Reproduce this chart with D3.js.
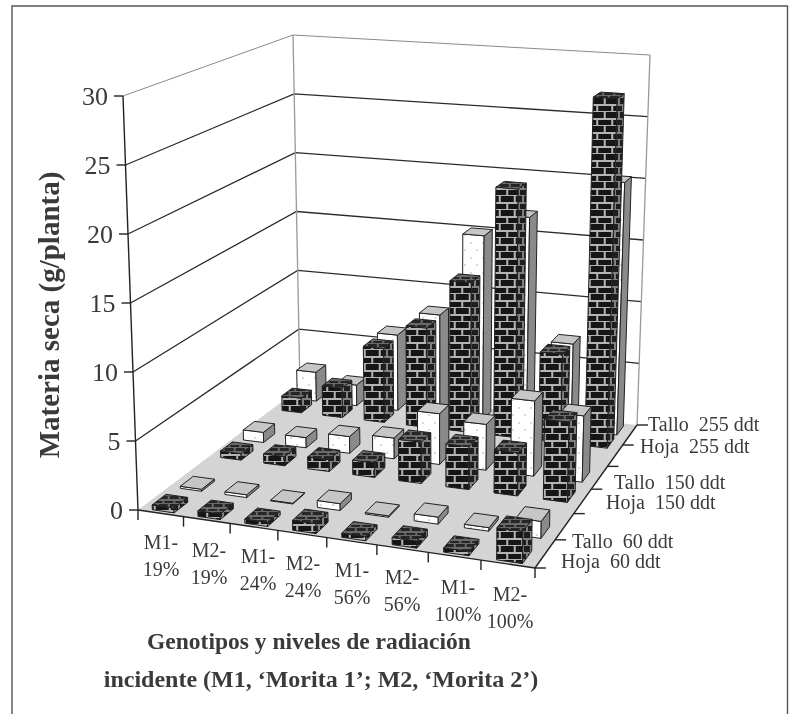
<!DOCTYPE html>
<html><head><meta charset="utf-8">
<script src="https://cdn.jsdelivr.net/npm/d3@7"></script>
<style>html,body{margin:0;padding:0;background:#fff}svg{display:block;filter:blur(0.45px)}text{font-family:"Liberation Serif",serif;fill:#3a3a3a}</style>
</head><body><svg id="c" width="789" height="714"></svg>
<script>
const categories=[["M1-","19%"],["M2-","19%"],["M1-","24%"],["M2-","24%"],["M1-","56%"],["M2-","56%"],["M1-","100%"],["M2-","100%"]];
const seriesNames=["Hoja  60 ddt","Tallo  60 ddt","Hoja  150 ddt","Tallo  150 ddt","Hoja  255 ddt","Tallo  255 ddt"];
const hoja60=[0.35,0.4,0.3,0.7,0.3,0.5,0.3,2.2];
const tallo60=[0.15,0.2,0.05,0.5,0.1,0.5,0.25,1.2];
const hoja150=[0.5,0.7,0.9,1.1,3.1,3.2,3.2,5.9];
const tallo150=[0.8,0.8,1.3,1.6,3.9,3.5,5.7,5];
const hoja255=[1.2,2.4,6,8,12,19.8,7,27.5];
const tallo255=[2.4,1.7,6.2,8.2,15,16.8,6.9,20.2];
const allSeries=[hoja60,tallo60,hoja150,tallo150,hoja255,tallo255];
const yTicks=[0,5,10,15,20,25,30];
const rowCentres=[0.3,1.2,2.6,3.45,5.0,5.65];

const svg=d3.select("#c");
const defs=svg.append("defs");
function brick(id,w,h,bg,mortar){
  const p=defs.append("pattern").attr("id",id).attr("patternUnits","userSpaceOnUse").attr("width",w).attr("height",h*2);
  p.append("rect").attr("width",w).attr("height",h*2).attr("fill",bg);
  [h-1,2*h-1].forEach(y=>p.append("rect").attr("x",0).attr("y",y).attr("width",w).attr("height",2).attr("fill",mortar));
  p.append("rect").attr("x",w*0.25).attr("y",0).attr("width",2).attr("height",h).attr("fill",mortar);
  p.append("rect").attr("x",w*0.75).attr("y",h).attr("width",2).attr("height",h).attr("fill",mortar);
}
brick("bF",15,7,"#161616","#b4b4b4");
brick("bS",8,7,"#1e1e1e","#808080");
brick("bT",11,4,"#262626","#6a6a6a");
const dp=defs.append("pattern").attr("id","dots").attr("patternUnits","userSpaceOnUse").attr("width",12).attr("height",15);
dp.append("rect").attr("width",12).attr("height",15).attr("fill","#fff");
dp.append("circle").attr("cx",3).attr("cy",3).attr("r",.8).attr("fill","#aaa");
dp.append("circle").attr("cx",9).attr("cy",10).attr("r",.8).attr("fill","#aaa");

svg.append("path").attr("d","M12,730V6H787.5V730").attr("fill","none").attr("stroke","#555").attr("stroke-width",1.4);

function homography(q){
  const [p0,p1,p2,p3]=q;
  const dx1=p1[0]-p2[0],dx2=p3[0]-p2[0],sx=p0[0]-p1[0]+p2[0]-p3[0];
  const dy1=p1[1]-p2[1],dy2=p3[1]-p2[1],sy=p0[1]-p1[1]+p2[1]-p3[1];
  const d=dx1*dy2-dx2*dy1;
  const g=(sx*dy2-dx2*sy)/d,h=(dx1*sy-sx*dy1)/d;
  const a=p1[0]-p0[0]+g*p1[0],b=p3[0]-p0[0]+h*p3[0],c=p0[0];
  const e=p1[1]-p0[1]+g*p1[1],f=p3[1]-p0[1]+h*p3[1],i=p0[1];
  return (u,v)=>{const w=g*u+h*v+1;return [(a*u+b*v+c)/w,(e*u+f*v+i)/w];};
}
const floorH=homography([[138,510],[535,568],[637,425],[300,388]]);
const topH=homography([[123,96],[541,128],[650,55],[293,35]]);
const xS=d3.scaleLinear().domain([0,categories.length]).range([0,1]);
const zS=d3.scaleLinear().domain([0,seriesNames.length]).range([0,1]);
const yS=d3.scaleLinear().domain([0,30]).range([0,1]);
function P(cx,cz,val){
  const u=xS(cx),v=zS(cz),t=yS(val);
  const a=floorH(u,v),b=topH(u,v);
  return [a[0]+(b[0]-a[0])*t,a[1]+(b[1]-a[1])*t];
}
const line=pts=>"M"+pts.map(p=>p[0].toFixed(1)+","+p[1].toFixed(1)).join("L")+"Z";
const nx=categories.length,nz=seriesNames.length;

svg.append("path").attr("d",line([P(0,0,0),P(nx,0,0),P(nx,nz,0),P(0,nz,0)])).attr("fill","#d4d4d4");
yTicks.forEach(v=>{
  if(v===0)return;
  svg.append("path").attr("fill","none").attr("stroke",v===30?"#8a8a8a":"#2a2a2a").attr("stroke-width",v===30?1:1.3)
   .attr("d","M"+[P(0,0,v),P(0,nz,v),P(nx,nz,v)].map(p=>p.join(",")).join("L"));
});
[[0,nz],[nx,nz]].forEach(c=>svg.append("line").attr("stroke","#999").attr("stroke-width",1.3)
  .attr("x1",P(c[0],c[1],0)[0]).attr("y1",P(c[0],c[1],0)[1]).attr("x2",P(c[0],c[1],30)[0]).attr("y2",P(c[0],c[1],30)[1]));
const ax=(a,b)=>svg.append("line").attr("stroke","#222").attr("stroke-width",1.4).attr("x1",a[0]).attr("y1",a[1]).attr("x2",b[0]).attr("y2",b[1]);
ax(P(0,0,0),P(0,0,30));
ax(P(0,0,0),P(nx,0,0));
ax(P(nx,0,0),P(nx,nz,0));
yTicks.forEach(v=>{
  const p=P(0,0,v);
  ax(p,[p[0]-9,p[1]]);
  svg.append("text").attr("x",p[0]-15).attr("y",p[1]+9).attr("text-anchor","end").attr("font-size",26).text(v);
});
d3.range(nx+1).forEach(i=>{const p=P(i,0,0);ax(p,[p[0],p[1]+10]);});
d3.range(nz+1).forEach(i=>{const p=P(nx,i,0);ax(p,[p[0]+11,p[1]]);});

const fx=0.26,halfDepth=0.22;
for(let k=nz-1;k>=0;k--){
  const brickBar=k%2===0;
  allSeries[k].forEach((val,i)=>{
    const x0=i+fx,x1=i+1-fx,z0=rowCentres[k]-halfDepth,z1=rowCentres[k]+halfDepth;
    const g=svg.append("g");
    const front=[P(x0,z0,0),P(x1,z0,0),P(x1,z0,val),P(x0,z0,val)];
    const side=[P(x1,z0,0),P(x1,z1,0),P(x1,z1,val),P(x1,z0,val)];
    const top=[P(x0,z0,val),P(x1,z0,val),P(x1,z1,val),P(x0,z1,val)];
    const st=(s)=>s.attr("stroke","#222").attr("stroke-width",1).attr("stroke-linejoin","round");
    st(g.append("path").attr("d",line(front)).attr("fill",brickBar?"url(#bF)":"url(#dots)"));
    st(g.append("path").attr("d",line(side)).attr("fill",brickBar?"url(#bS)":"#8a8a8a"));
    st(g.append("path").attr("d",line(top)).attr("fill",brickBar?"url(#bT)":"#c6c6c6"));
  });
}

const catX=[161,209,258,303,352,402,458,510];
const catY=[549,557,563,570,577,584,594,601];
categories.forEach((c,i)=>{
  const t=svg.append("text").attr("text-anchor","middle").attr("font-size",20);
  t.append("tspan").attr("x",catX[i]).attr("y",catY[i]).text(c[0]);
  t.append("tspan").attr("x",catX[i]).attr("y",catY[i]+27).text(c[1]);
});
const zX=[561,572,606,614,640,648],zY=[568,548,509,489,453,431];
seriesNames.forEach((s,i)=>svg.append("text").attr("x",zX[i]).attr("y",zY[i]).attr("font-size",20).style("white-space","pre").text(s));

svg.append("text").attr("transform","translate(59,315) rotate(-90)").attr("text-anchor","middle").attr("font-size",29).attr("font-weight","bold").text("Materia seca (g/planta)");
svg.append("text").attr("x",309).attr("y",649).attr("text-anchor","middle").attr("font-size",23.5).attr("font-weight","bold").text("Genotipos y niveles de radiación");
svg.append("text").attr("x",321).attr("y",687).attr("text-anchor","middle").attr("font-size",24).attr("font-weight","bold").text("incidente (M1, ‘Morita 1’; M2, ‘Morita 2’)");
</script></body></html>
